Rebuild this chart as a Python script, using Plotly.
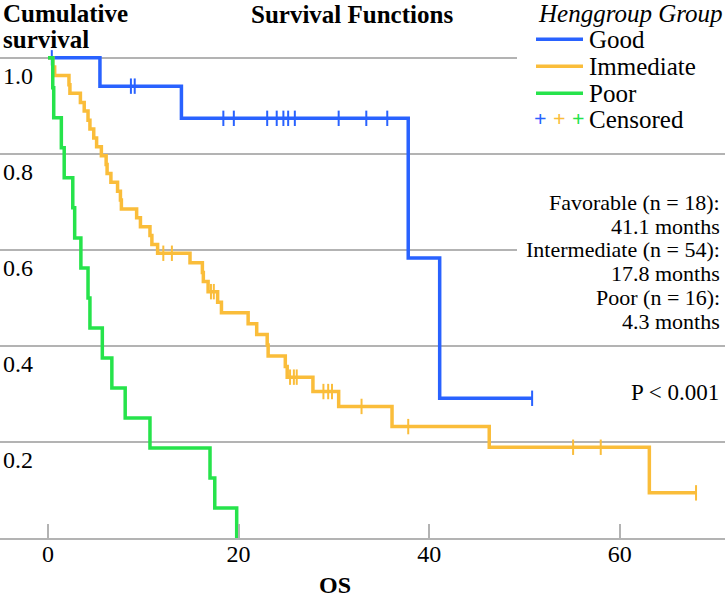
import plotly.graph_objects as go

# ---------------- data ----------------
good_event_t = [5.45, 14.0, 37.8, 41.1]
good_event_s = [0.941, 0.874, 0.583, 0.291]
good_end_t = 50.8
good_cens_t = [0.4, 8.7, 9.1, 18.4, 19.5, 23.0, 24.0, 24.7, 25.2, 25.9, 30.5, 33.4, 35.6, 50.8]

imm_event_t = [0.5, 0.7, 2.2, 2.3, 3.4, 3.8, 4.2, 4.4, 4.8, 5.1, 5.6, 6.1, 6.2, 6.6, 7.3, 7.6, 7.7,
               9.3, 9.7, 10.7, 10.9, 11.5, 14.9, 16.2, 16.3, 16.8, 17.8, 18.2, 21.0, 21.9, 23.0, 23.1,
               24.9, 25.1, 27.8, 30.5, 36.1, 46.3, 63.1]
imm_event_s = [0.981, 0.963, 0.944, 0.926, 0.907, 0.889, 0.870, 0.852, 0.833, 0.815, 0.796, 0.778,
               0.759, 0.741, 0.722, 0.704, 0.685, 0.667, 0.648, 0.630, 0.611, 0.593, 0.573, 0.553,
               0.534, 0.513, 0.491, 0.469, 0.446, 0.424, 0.402, 0.379, 0.357, 0.335, 0.305, 0.274,
               0.232, 0.189, 0.094]
imm_end_t = 68.0
imm_cens_t = [12.1, 13.0, 17.1, 17.4, 25.4, 25.8, 26.1, 28.9, 29.4, 29.8, 32.9, 37.8, 55.1, 58.0, 68.0]

poor_event_t = [0.5, 0.6, 1.4, 1.7, 2.6, 2.8, 3.45, 4.2, 4.4, 5.7, 6.7, 8.1, 10.7, 17.0, 17.5, 19.8]
poor_event_s = [0.9375, 0.875, 0.8125, 0.75, 0.6875, 0.625, 0.5625, 0.5, 0.4375, 0.375, 0.3125,
                0.25, 0.1875, 0.125, 0.0625, 0.0]
poor_end_t = 19.8
poor_cens_t = []

group_names = ["Good", "Immediate", "Poor"]
group_colors = ["#2962ff", "#fabd3a", "#26e34b"]

x_ticks = [0, 20, 40, 60]
y_ticks = [0.0, 0.2, 0.4, 0.6, 0.8, 1.0]
y_ticktext = ["", "0.2", "0.4", "0.6", "0.8", "1.0"]

median_lines = ["Favorable (n = 18):", "41.1 months", "Intermediate (n = 54):", "17.8 months",
                "Poor (n = 16):", "4.3 months"]
p_text = "P < 0.001"

# ---------------- figure ----------------
W, H = 725, 597
Y_TOP = 1.06                 # a little head-room above 1.0 so the 1.0 gridline/label are drawn
ZERO_PX, ONE_PX = 538, 58    # pixel rows of survival 0 and 1
UNIT = ZERO_PX - ONE_PX
T = ONE_PX - (Y_TOP - 1.0) * UNIT
B = H - ZERO_PX
PH = H - T - B
FONT = "Liberation Serif, Times New Roman, serif"


def px(x):
    return x / W


def py(y):
    return (H - B - y) / PH


def surv_at(t, ev_t, ev_s):
    s = 1.0
    for et, es in zip(ev_t, ev_s):
        if et <= t:
            s = es
    return s


fig = go.Figure()
groups = [
    (good_event_t, good_event_s, good_end_t, good_cens_t),
    (imm_event_t, imm_event_s, imm_end_t, imm_cens_t),
    (poor_event_t, poor_event_s, poor_end_t, poor_cens_t),
]
for (ev_t, ev_s, end_t, cens_t), name, col in zip(groups, group_names, group_colors):
    xs = [0.0] + list(ev_t)
    ys = [1.0] + list(ev_s)
    if end_t > ev_t[-1]:
        xs.append(end_t)
        ys.append(ev_s[-1])
    fig.add_trace(go.Scatter(x=xs, y=ys, mode="lines", line=dict(color=col, width=3.5, shape="hv"),
                             name=name, showlegend=False, cliponaxis=False, hoverinfo="skip"))
    if cens_t:
        fig.add_trace(go.Scatter(
            x=cens_t, y=[surv_at(t, ev_t, ev_s) for t in cens_t], mode="markers",
            marker=dict(symbol="line-ns", size=11, line=dict(color=col, width=2)),
            name=name + " censored", showlegend=False, cliponaxis=False, hoverinfo="skip"))

GRID = "#b3b3b3"
fig.update_layout(
    width=W, height=H,
    margin=dict(l=0, r=0, t=T, b=B, pad=0),
    paper_bgcolor="white", plot_bgcolor="white",
    font=dict(family=FONT, color="black", size=24),
    showlegend=False,
    xaxis=dict(range=[-48 / 9.53, (W - 48) / 9.53], tickvals=x_ticks, showgrid=False, zeroline=False,
               ticks="inside", ticklen=14, tickwidth=1.5, tickcolor=GRID,
               showline=True, linecolor=GRID, linewidth=1.5, ticklabelstandoff=-7,
               tickfont=dict(family=FONT, size=24, color="black")),
    yaxis=dict(range=[0, Y_TOP], tickvals=y_ticks, ticktext=y_ticktext, showgrid=True, gridcolor=GRID,
               gridwidth=1.5, zeroline=False, showline=False, ticks="",
               ticklabelposition="inside", ticklabelshift=18,
               tickfont=dict(family=FONT, size=24, color="black")),
)

shapes = []
# white boxes behind legend and median text (they cover the gridlines there)
shapes.append(dict(type="rect", xref="paper", yref="paper", x0=px(517), x1=px(W), y0=py(0), y1=py(135),
                   fillcolor="white", line=dict(width=0), layer="above"))
shapes.append(dict(type="rect", xref="paper", yref="paper", x0=px(517), x1=px(W), y0=py(188), y1=py(336),
                   fillcolor="white", line=dict(width=0), layer="above"))
ann = []
# legend
ann.append(dict(text="<i>Henggroup Group</i>", x=px(536), y=py(14), xref="paper", yref="paper",
                xanchor="left", yanchor="middle", showarrow=False, font=dict(family=FONT, size=25)))
leg_rows = [40, 67, 94, 120]
for name, col, yy in zip(group_names, group_colors, leg_rows[:3]):
    shapes.append(dict(type="line", xref="paper", yref="paper", x0=px(536), x1=px(583),
                       y0=py(yy - 0.5), y1=py(yy - 0.5), line=dict(color=col, width=3.5), layer="above"))
    ann.append(dict(text=name, x=px(587), y=py(yy), xref="paper", yref="paper", xanchor="left",
                    yanchor="middle", showarrow=False, font=dict(family=FONT, size=25)))
for col, xx in zip(group_colors, [540, 559, 578]):
    ann.append(dict(text="<b>+</b>", x=px(xx), y=py(leg_rows[3] - 1), xref="paper", yref="paper",
                    xanchor="center", yanchor="middle", showarrow=False,
                    font=dict(family=FONT, size=22, color=col)))
ann.append(dict(text="Censored", x=px(587), y=py(leg_rows[3]), xref="paper", yref="paper",
                xanchor="left", yanchor="middle", showarrow=False, font=dict(family=FONT, size=25)))
# median survival text
for line, yy in zip(median_lines, [203, 227, 250, 274, 298, 322]):
    ann.append(dict(text=line, x=px(722), y=py(yy), xref="paper", yref="paper", xanchor="right",
                    yanchor="middle", showarrow=False, font=dict(family=FONT, size=22)))
ann.append(dict(text=p_text, x=px(721), y=py(393), xref="paper", yref="paper", xanchor="right",
                yanchor="middle", showarrow=False, font=dict(family=FONT, size=23)))
# titles
ann.append(dict(text="<b>Cumulative</b>", x=px(1), y=py(14), xref="paper", yref="paper", xanchor="left",
                yanchor="middle", showarrow=False, font=dict(family=FONT, size=25)))
ann.append(dict(text="<b>survival</b>", x=px(1), y=py(40), xref="paper", yref="paper", xanchor="left",
                yanchor="middle", showarrow=False, font=dict(family=FONT, size=25)))
ann.append(dict(text="<b>Survival Functions</b>", x=px(352), y=py(15), xref="paper", yref="paper",
                xanchor="center", yanchor="middle", showarrow=False, font=dict(family=FONT, size=25)))
ann.append(dict(text="<b>OS</b>", x=px(335), y=py(585), xref="paper", yref="paper", xanchor="center",
                yanchor="middle", showarrow=False, font=dict(family=FONT, size=24)))

fig.update_layout(shapes=shapes, annotations=ann)
fig.write_html("out.html", config={"displayModeBar": False},
               post_script="document.body.style.margin='0px';document.body.style.overflow='hidden';")
